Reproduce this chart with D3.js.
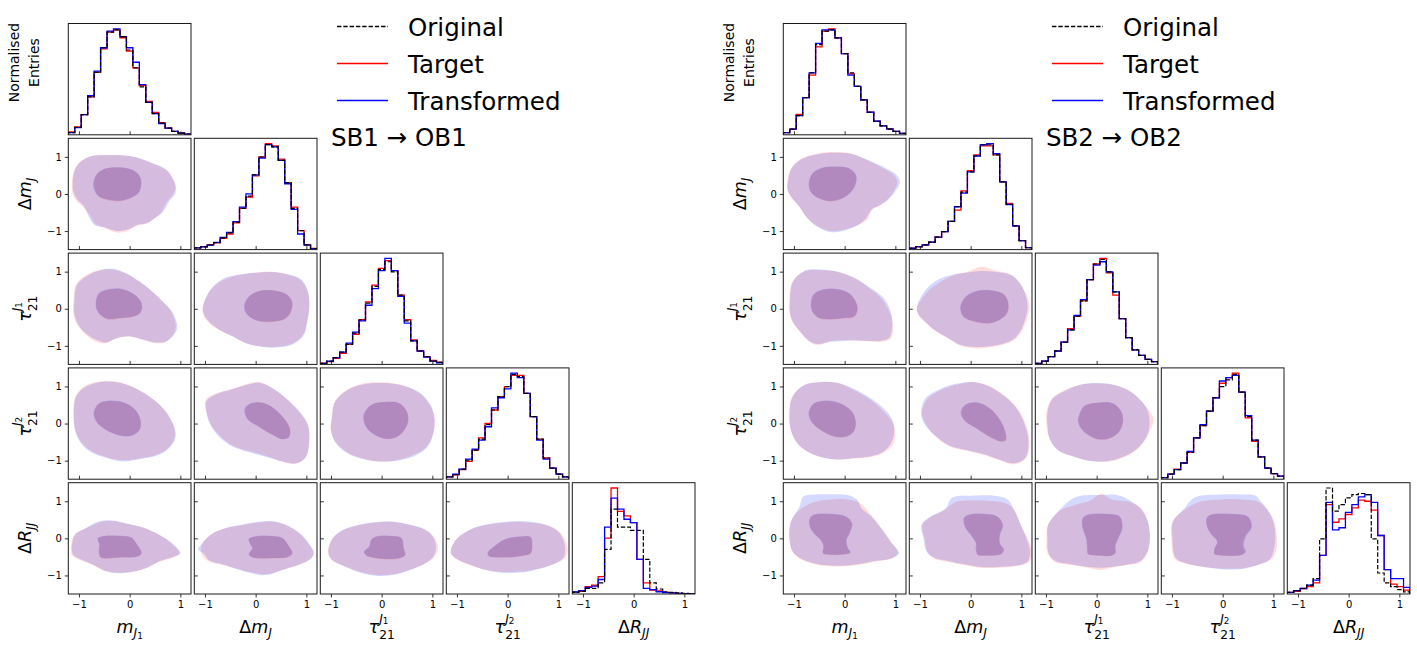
<!DOCTYPE html>
<html><head><meta charset="utf-8">
<script src="https://cdn.jsdelivr.net/npm/d3@7"></script>
<style>body{margin:0;background:#fff}svg{display:block}text{font-family:"DejaVu Sans",sans-serif;fill:#000}</style>
</head><body><svg id="c" width="1417" height="646"></svg>
<script>
// ---------------- DATA ----------------
const variables = ["mJ1","dmJ","tau1","tau2","dR"];
const tickValues = [-1, 0, 1];
const xDomain = [-1.21, 1.21];
const yDomain = [-1.5, 1.5];
const nBins = 19;
const legendLabels = ["Original", "Target", "Transformed"];
const titles = ["SB1 \u2192 OB1", "SB2 \u2192 OB2"];
const pairPanels = [[1,0],[2,0],[2,1],[3,0],[3,1],[3,2],[4,0],[4,1],[4,2],[4,3]];

// histograms (normalised entries), 19 bins each, one array per variable
const histLeftOriginal = [
 [0.02,0.066,0.18,0.34,0.56,0.78,0.92,0.94,0.88,0.76,0.60,0.43,0.29,0.19,0.105,0.06,0.03,0.015,0.006],
 [0.015,0.024,0.042,0.063,0.105,0.15,0.246,0.37,0.48,0.67,0.83,0.94,0.92,0.80,0.60,0.37,0.17,0.042,0.01],
 [0.01,0.03,0.06,0.11,0.18,0.28,0.40,0.55,0.70,0.85,0.92,0.83,0.62,0.39,0.21,0.12,0.07,0.03,0.018],
 [0.02,0.04,0.09,0.17,0.26,0.36,0.49,0.62,0.74,0.83,0.94,0.92,0.77,0.56,0.36,0.19,0.10,0.045,0.02],
 [0.015,0.024,0.05,0.05,0.10,0.40,0.76,0.60,0.60,0.57,0.57,0.31,0.10,0.045,0.02,0.015,0.01,0.005,0.002]
];
const histLeftTarget = [
 [0.027,0.07,0.18,0.34,0.56,0.77,0.92,0.94,0.87,0.75,0.60,0.44,0.30,0.20,0.11,0.06,0.03,0.016,0.006],
 [0.015,0.026,0.045,0.06,0.10,0.14,0.24,0.37,0.47,0.66,0.83,0.95,0.93,0.81,0.60,0.38,0.17,0.045,0.01],
 [0.012,0.025,0.055,0.10,0.18,0.27,0.40,0.56,0.71,0.86,0.93,0.84,0.62,0.40,0.22,0.12,0.07,0.035,0.02],
 [0.02,0.04,0.085,0.16,0.26,0.37,0.50,0.62,0.74,0.83,0.93,0.93,0.77,0.56,0.36,0.19,0.10,0.045,0.02],
 [0.018,0.024,0.066,0.08,0.155,0.50,0.95,0.74,0.70,0.64,0.31,0.10,0.036,0.027,0.015,0.01,0.005,0.003,0.002]
];
const histLeftTransformed = [
 [0.02,0.065,0.18,0.35,0.57,0.78,0.93,0.95,0.88,0.78,0.65,0.45,0.29,0.19,0.10,0.06,0.03,0.015,0.006],
 [0.015,0.024,0.04,0.065,0.11,0.155,0.25,0.38,0.50,0.67,0.82,0.94,0.92,0.80,0.59,0.36,0.14,0.04,0.008],
 [0.01,0.03,0.06,0.11,0.19,0.29,0.39,0.53,0.68,0.84,0.95,0.84,0.61,0.37,0.21,0.12,0.065,0.03,0.015],
 [0.02,0.045,0.09,0.18,0.27,0.35,0.47,0.64,0.73,0.81,0.95,0.91,0.77,0.56,0.35,0.18,0.10,0.045,0.02],
 [0.018,0.03,0.06,0.07,0.13,0.60,0.86,0.76,0.67,0.64,0.31,0.05,0.04,0.02,0.012,0.01,0.005,0.003,0.002]
];
const histRightOriginal = [
 [0.02,0.05,0.17,0.33,0.55,0.80,0.92,0.93,0.86,0.72,0.55,0.43,0.31,0.20,0.12,0.08,0.05,0.03,0.012],
 [0.012,0.027,0.042,0.066,0.11,0.16,0.25,0.38,0.51,0.69,0.83,0.93,0.93,0.84,0.60,0.40,0.21,0.08,0.018],
 [0.01,0.03,0.07,0.12,0.20,0.31,0.43,0.57,0.76,0.90,0.94,0.83,0.65,0.41,0.24,0.13,0.08,0.045,0.024],
 [0.015,0.045,0.085,0.145,0.24,0.37,0.48,0.61,0.73,0.83,0.89,0.94,0.78,0.56,0.35,0.20,0.10,0.05,0.027],
 [0.015,0.03,0.05,0.08,0.14,0.50,0.96,0.75,0.81,0.87,0.90,0.91,0.90,0.50,0.19,0.10,0.066,0.04,0.02]
];
const histRightTarget = [
 [0.02,0.05,0.18,0.33,0.53,0.78,0.92,0.94,0.86,0.72,0.54,0.43,0.31,0.20,0.12,0.08,0.055,0.03,0.012],
 [0.012,0.025,0.04,0.065,0.11,0.16,0.25,0.35,0.52,0.70,0.84,0.92,0.92,0.84,0.60,0.41,0.21,0.08,0.018],
 [0.01,0.03,0.07,0.12,0.20,0.32,0.43,0.57,0.76,0.90,0.95,0.82,0.62,0.41,0.24,0.13,0.08,0.045,0.024],
 [0.015,0.045,0.09,0.145,0.24,0.37,0.48,0.61,0.73,0.86,0.91,0.95,0.78,0.55,0.34,0.20,0.10,0.05,0.027],
 [0.015,0.024,0.05,0.066,0.10,0.35,0.81,0.65,0.68,0.72,0.78,0.85,0.84,0.76,0.53,0.22,0.09,0.066,0.036]
];
const histRightTransformed = [
 [0.02,0.05,0.17,0.33,0.55,0.81,0.93,0.93,0.86,0.72,0.53,0.43,0.31,0.20,0.12,0.08,0.05,0.03,0.012],
 [0.012,0.027,0.042,0.066,0.11,0.16,0.25,0.38,0.50,0.69,0.83,0.93,0.94,0.85,0.60,0.40,0.21,0.08,0.018],
 [0.01,0.03,0.07,0.12,0.20,0.31,0.44,0.58,0.76,0.89,0.92,0.83,0.65,0.41,0.24,0.13,0.08,0.045,0.024],
 [0.015,0.045,0.085,0.145,0.25,0.37,0.49,0.61,0.73,0.88,0.91,0.93,0.78,0.57,0.35,0.20,0.10,0.05,0.027],
 [0.015,0.03,0.05,0.08,0.125,0.35,0.83,0.58,0.60,0.74,0.81,0.88,0.90,0.83,0.53,0.22,0.14,0.14,0.06]
];

// density contour outlines [x, y] in data units, one polygon per off-diagonal panel (order of pairPanels)
const contourLeftTargetOuter = [
 [[-1.14,0.14],[-1.06,0.73],[-0.80,1.00],[-0.47,1.04],[0.06,1.00],[0.45,0.82],[0.72,0.64],[0.91,0.23],[0.86,0.01],[0.72,-0.24],[0.62,-0.50],[0.47,-0.68],[0.30,-0.82],[0.14,-0.86],[-0.04,-1.00],[-0.27,-1.04],[-0.50,-0.91],[-0.68,-0.80],[-0.78,-0.58],[-0.92,-0.35],[-1.08,-0.13]],
 [[-1.11,0.19],[-1.06,0.64],[-0.86,0.91],[-0.60,1.04],[-0.34,1.06],[-0.07,0.95],[0.19,0.73],[0.45,0.46],[0.65,0.19],[0.82,-0.08],[0.91,-0.49],[0.85,-0.71],[0.72,-0.89],[0.52,-0.93],[0.26,-0.84],[-0.01,-0.75],[-0.27,-0.80],[-0.47,-0.93],[-0.66,-0.89],[-0.86,-0.71],[-1.03,-0.44],[-1.11,-0.13]],
 [[-1.05,0.01],[-0.91,0.46],[-0.65,0.77],[-0.32,0.91],[0.01,0.98],[0.34,1.00],[0.66,0.91],[0.89,0.77],[1.03,0.46],[1.06,0.10],[1.01,-0.35],[0.93,-0.71],[0.73,-0.93],[0.47,-1.02],[0.14,-1.02],[-0.19,-0.93],[-0.45,-0.75],[-0.72,-0.58],[-0.91,-0.40],[-1.03,-0.17]],
 [[-1.11,0.22],[-1.06,0.76],[-0.86,1.03],[-0.53,1.14],[-0.20,1.11],[0.13,0.94],[0.45,0.67],[0.72,0.31],[0.88,-0.13],[0.88,-0.40],[0.75,-0.67],[0.52,-0.85],[0.19,-0.94],[-0.14,-0.99],[-0.47,-0.90],[-0.73,-0.76],[-0.93,-0.54],[-1.06,-0.22]],
 [[-0.99,0.63],[-0.78,0.81],[-0.45,0.94],[-0.13,1.08],[0.07,1.12],[0.34,0.94],[0.60,0.67],[0.86,0.31],[1.03,-0.04],[1.05,-0.49],[0.99,-0.90],[0.80,-1.08],[0.53,-1.03],[0.27,-0.90],[-0.06,-0.76],[-0.39,-0.63],[-0.65,-0.40],[-0.85,-0.09],[-0.95,0.22]],
 [[-0.99,0.13],[-0.93,0.58],[-0.70,0.90],[-0.37,1.08],[0.03,1.11],[0.42,1.03],[0.75,0.81],[0.95,0.49],[1.05,0.13],[1.01,-0.31],[0.88,-0.63],[0.62,-0.85],[0.29,-0.99],[-0.04,-1.03],[-0.37,-0.94],[-0.70,-0.76],[-0.93,-0.45],[-1.01,-0.13]],
 [[-1.16,-0.31],[-1.09,0.09],[-0.86,0.27],[-0.60,0.43],[-0.34,0.47],[-0.07,0.40],[0.26,0.29],[0.59,0.09],[0.82,-0.13],[0.98,-0.40],[0.85,-0.52],[0.59,-0.63],[0.32,-0.81],[0.06,-0.90],[-0.27,-0.92],[-0.53,-0.85],[-0.73,-0.72],[-0.99,-0.58],[-1.13,-0.47]],
 [[-1.05,-0.13],[-0.85,0.13],[-0.59,0.27],[-0.26,0.36],[0.07,0.43],[0.34,0.45],[0.60,0.36],[0.86,0.13],[1.03,-0.13],[1.14,-0.40],[1.06,-0.58],[0.86,-0.72],[0.53,-0.85],[0.20,-0.97],[-0.06,-0.92],[-0.39,-0.81],[-0.65,-0.72],[-0.91,-0.63],[-1.05,-0.47]],
 [[-1.06,-0.36],[-0.96,0.00],[-0.76,0.22],[-0.43,0.36],[-0.11,0.43],[0.22,0.45],[0.55,0.36],[0.88,0.22],[1.05,0.00],[1.11,-0.27],[1.05,-0.49],[0.88,-0.67],[0.55,-0.85],[0.22,-0.97],[-0.11,-0.99],[-0.43,-0.90],[-0.76,-0.74],[-0.99,-0.58]],
 [[-1.12,-0.40],[-1.02,-0.04],[-0.76,0.22],[-0.43,0.36],[-0.03,0.43],[0.36,0.43],[0.76,0.36],[1.02,0.18],[1.15,-0.09],[1.18,-0.40],[1.09,-0.58],[0.82,-0.74],[0.49,-0.85],[0.16,-0.90],[-0.16,-0.90],[-0.49,-0.83],[-0.76,-0.72],[-0.99,-0.58]]
];
const contourLeftTargetInner = [
 [[-0.70,0.32],[-0.63,0.55],[-0.47,0.68],[-0.20,0.71],[0.06,0.64],[0.20,0.46],[0.22,0.23],[0.16,0.01],[-0.01,-0.13],[-0.20,-0.20],[-0.43,-0.17],[-0.60,-0.08],[-0.68,0.10]],
 [[-0.66,0.19],[-0.60,0.41],[-0.40,0.52],[-0.17,0.53],[0.06,0.41],[0.20,0.23],[0.24,0.05],[0.20,-0.13],[0.06,-0.22],[-0.17,-0.26],[-0.43,-0.29],[-0.57,-0.17],[-0.65,0.01]],
 [[-0.21,0.10],[-0.13,0.32],[0.07,0.48],[0.34,0.49],[0.60,0.39],[0.72,0.19],[0.70,-0.08],[0.60,-0.26],[0.37,-0.35],[0.11,-0.35],[-0.09,-0.24],[-0.19,-0.08]],
 [[-0.70,0.31],[-0.60,0.54],[-0.34,0.61],[-0.07,0.54],[0.13,0.33],[0.22,0.04],[0.19,-0.18],[0.06,-0.31],[-0.14,-0.33],[-0.40,-0.22],[-0.60,-0.04],[-0.68,0.13]],
 [[-0.20,0.40],[-0.09,0.54],[0.14,0.56],[0.37,0.40],[0.57,0.13],[0.68,-0.13],[0.66,-0.36],[0.53,-0.42],[0.34,-0.31],[0.07,-0.09],[-0.16,0.13]],
 [[-0.34,0.27],[-0.20,0.51],[0.06,0.58],[0.36,0.54],[0.50,0.31],[0.52,0.04],[0.43,-0.22],[0.26,-0.39],[0.03,-0.40],[-0.17,-0.27],[-0.30,-0.09],[-0.35,0.09]],
 [[-0.62,0.00],[-0.47,0.06],[-0.20,0.06],[0.03,0.02],[0.13,-0.13],[0.24,-0.40],[0.16,-0.49],[-0.20,-0.52],[-0.57,-0.52],[-0.60,-0.36],[-0.59,-0.18]],
 [[-0.13,-0.02],[-0.03,0.04],[0.27,0.06],[0.53,0.00],[0.66,-0.22],[0.73,-0.40],[0.63,-0.51],[0.34,-0.54],[-0.06,-0.52],[-0.13,-0.43],[-0.06,-0.27],[-0.11,-0.13]],
 [[-0.20,-0.04],[-0.11,0.04],[0.16,0.06],[0.39,0.00],[0.43,-0.27],[0.47,-0.45],[0.36,-0.54],[0.03,-0.56],[-0.30,-0.47],[-0.34,-0.36],[-0.24,-0.22]],
 [[-0.39,-0.40],[-0.23,-0.18],[-0.03,-0.02],[0.23,0.04],[0.46,0.03],[0.49,-0.18],[0.46,-0.40],[0.23,-0.49],[-0.10,-0.52],[-0.36,-0.49]]
];
const contourLeftTransformedOuter = [
 [[-1.12,0.14],[-1.05,0.73],[-0.80,1.00],[-0.47,1.05],[0.06,1.01],[0.45,0.83],[0.74,0.64],[0.90,0.23],[0.90,0.01],[0.77,-0.22],[0.66,-0.48],[0.50,-0.65],[0.33,-0.79],[0.16,-0.83],[-0.04,-0.96],[-0.27,-1.00],[-0.50,-0.90],[-0.69,-0.84],[-0.80,-0.62],[-0.89,-0.35],[-1.04,-0.13]],
 [[-1.09,0.19],[-1.04,0.64],[-0.84,0.88],[-0.60,1.03],[-0.34,1.08],[-0.07,0.96],[0.19,0.74],[0.45,0.46],[0.66,0.19],[0.84,-0.08],[0.94,-0.49],[0.87,-0.71],[0.72,-0.88],[0.52,-0.91],[0.26,-0.83],[-0.01,-0.74],[-0.27,-0.80],[-0.47,-0.91],[-0.64,-0.85],[-0.84,-0.69],[-1.01,-0.44],[-1.09,-0.13]],
 [[-1.04,0.03],[-0.90,0.50],[-0.65,0.80],[-0.32,0.92],[0.01,0.97],[0.34,0.99],[0.66,0.92],[0.91,0.78],[1.03,0.46],[1.06,0.10],[1.02,-0.35],[0.95,-0.71],[0.75,-0.95],[0.47,-1.04],[0.14,-1.03],[-0.19,-0.93],[-0.45,-0.75],[-0.72,-0.56],[-0.90,-0.38],[-1.02,-0.15]],
 [[-1.10,0.22],[-1.05,0.74],[-0.84,1.01],[-0.53,1.13],[-0.20,1.10],[0.13,0.94],[0.45,0.67],[0.72,0.31],[0.89,-0.13],[0.90,-0.40],[0.77,-0.67],[0.52,-0.87],[0.19,-0.96],[-0.14,-1.02],[-0.47,-0.92],[-0.75,-0.78],[-0.95,-0.55],[-1.07,-0.22]],
 [[-0.97,0.60],[-0.78,0.79],[-0.45,0.93],[-0.13,1.06],[0.07,1.10],[0.34,0.95],[0.60,0.68],[0.86,0.33],[1.03,-0.04],[1.06,-0.49],[0.99,-0.90],[0.80,-1.07],[0.53,-1.02],[0.27,-0.92],[-0.06,-0.80],[-0.39,-0.66],[-0.67,-0.42],[-0.87,-0.09],[-0.96,0.22]],
 [[-0.98,0.13],[-0.92,0.58],[-0.70,0.88],[-0.37,1.05],[0.03,1.09],[0.42,1.02],[0.77,0.82],[0.97,0.49],[1.04,0.13],[1.01,-0.31],[0.90,-0.64],[0.64,-0.88],[0.29,-1.00],[-0.04,-1.02],[-0.40,-0.95],[-0.72,-0.76],[-0.94,-0.45],[-1.00,-0.13]],
 [[-1.14,-0.31],[-1.08,0.09],[-0.86,0.28],[-0.60,0.46],[-0.34,0.48],[-0.07,0.40],[0.26,0.29],[0.59,0.09],[0.84,-0.13],[1.00,-0.40],[0.85,-0.50],[0.59,-0.61],[0.32,-0.80],[0.06,-0.90],[-0.27,-0.94],[-0.53,-0.85],[-0.73,-0.70],[-0.97,-0.56],[-1.11,-0.45]],
 [[-1.03,-0.10],[-0.85,0.13],[-0.59,0.28],[-0.26,0.37],[0.07,0.45],[0.34,0.46],[0.60,0.36],[0.88,0.13],[1.05,-0.13],[1.15,-0.40],[1.06,-0.58],[0.86,-0.70],[0.53,-0.85],[0.20,-0.99],[-0.06,-0.95],[-0.39,-0.82],[-0.65,-0.70],[-0.91,-0.60],[-1.02,-0.42],[-1.13,-0.30]],
 [[-1.05,-0.36],[-0.96,0.02],[-0.76,0.23],[-0.43,0.37],[-0.11,0.44],[0.22,0.45],[0.55,0.37],[0.88,0.22],[1.03,0.00],[1.07,-0.27],[1.02,-0.49],[0.86,-0.67],[0.55,-0.86],[0.22,-0.99],[-0.11,-1.01],[-0.43,-0.92],[-0.76,-0.74],[-0.99,-0.56]],
 [[-1.12,-0.40],[-1.02,-0.04],[-0.76,0.22],[-0.43,0.37],[-0.03,0.45],[0.36,0.46],[0.76,0.36],[1.00,0.18],[1.11,-0.09],[1.13,-0.40],[1.06,-0.58],[0.82,-0.74],[0.49,-0.87],[0.16,-0.93],[-0.16,-0.92],[-0.49,-0.83],[-0.76,-0.70],[-0.99,-0.56]]
];
const contourLeftTransformedInner = [
 [[-0.72,0.30],[-0.64,0.55],[-0.47,0.69],[-0.20,0.72],[0.06,0.65],[0.21,0.46],[0.23,0.23],[0.17,0.01],[-0.01,-0.12],[-0.20,-0.18],[-0.43,-0.15],[-0.61,-0.06],[-0.70,0.10]],
 [[-0.67,0.19],[-0.61,0.42],[-0.40,0.53],[-0.17,0.54],[0.06,0.42],[0.21,0.23],[0.25,0.05],[0.20,-0.12],[0.06,-0.21],[-0.17,-0.25],[-0.43,-0.27],[-0.58,-0.16],[-0.66,0.01]],
 [[-0.23,0.10],[-0.14,0.33],[0.07,0.48],[0.34,0.50],[0.60,0.40],[0.72,0.19],[0.69,-0.08],[0.58,-0.26],[0.37,-0.34],[0.11,-0.34],[-0.10,-0.24],[-0.21,-0.08]],
 [[-0.71,0.31],[-0.60,0.55],[-0.34,0.62],[-0.07,0.55],[0.14,0.33],[0.22,0.04],[0.19,-0.19],[0.06,-0.32],[-0.14,-0.34],[-0.40,-0.22],[-0.60,-0.04],[-0.69,0.13]],
 [[-0.22,0.40],[-0.10,0.55],[0.14,0.56],[0.37,0.40],[0.56,0.13],[0.67,-0.13],[0.66,-0.36],[0.53,-0.42],[0.34,-0.31],[0.07,-0.09],[-0.17,0.13]],
 [[-0.35,0.27],[-0.21,0.50],[0.06,0.58],[0.35,0.54],[0.50,0.31],[0.52,0.04],[0.42,-0.22],[0.26,-0.38],[0.03,-0.40],[-0.18,-0.27],[-0.31,-0.09],[-0.36,0.09]],
 [[-0.63,0.00],[-0.47,0.07],[-0.20,0.07],[0.03,0.03],[0.13,-0.13],[0.23,-0.40],[0.15,-0.49],[-0.20,-0.51],[-0.57,-0.51],[-0.61,-0.36],[-0.60,-0.18]],
 [[-0.14,-0.02],[-0.03,0.05],[0.27,0.07],[0.53,0.01],[0.66,-0.22],[0.72,-0.40],[0.63,-0.50],[0.34,-0.53],[-0.06,-0.51],[-0.14,-0.43],[-0.07,-0.27],[-0.12,-0.13]],
 [[-0.21,-0.04],[-0.11,0.05],[0.16,0.07],[0.39,0.01],[0.44,-0.27],[0.46,-0.45],[0.36,-0.53],[0.03,-0.55],[-0.30,-0.46],[-0.35,-0.36],[-0.25,-0.22]],
 [[-0.40,-0.40],[-0.23,-0.17],[-0.03,-0.01],[0.23,0.05],[0.45,0.04],[0.48,-0.18],[0.45,-0.40],[0.23,-0.48],[-0.10,-0.51],[-0.37,-0.48]]
];
const contourRightTargetOuter = [
 [[-1.13,0.32],[-1.06,0.68],[-0.86,0.95],[-0.53,1.09],[-0.20,1.13],[0.13,1.09],[0.45,0.91],[0.78,0.68],[0.98,0.50],[1.04,0.32],[0.96,0.05],[0.83,-0.17],[0.70,-0.31],[0.55,-0.42],[0.45,-0.68],[0.26,-0.84],[-0.01,-0.96],[-0.27,-1.00],[-0.53,-0.87],[-0.73,-0.66],[-0.89,-0.35],[-1.06,-0.08],[-1.13,0.10]],
 [[-1.09,0.19],[-1.03,0.73],[-0.80,1.00],[-0.47,1.04],[-0.14,1.00],[0.19,0.82],[0.49,0.55],[0.72,0.28],[0.88,-0.08],[0.95,-0.44],[0.91,-0.80],[0.72,-0.89],[0.39,-0.87],[0.06,-0.84],[-0.27,-0.87],[-0.53,-0.98],[-0.70,-0.89],[-0.86,-0.66],[-1.03,-0.35],[-1.09,-0.08]],
 [[-1.06,0.01],[-0.85,0.46],[-0.59,0.73],[-0.32,0.91],[-0.06,1.00],[0.20,1.13],[0.47,1.04],[0.80,0.91],[0.99,0.64],[1.13,0.28],[1.16,0.01],[1.09,-0.35],[0.96,-0.71],[0.80,-0.89],[0.47,-1.02],[0.14,-1.07],[-0.19,-1.00],[-0.45,-0.80],[-0.72,-0.58],[-0.91,-0.35],[-1.03,-0.17]],
 [[-1.09,0.22],[-1.03,0.72],[-0.80,1.03],[-0.47,1.11],[-0.14,1.09],[0.19,0.90],[0.52,0.63],[0.78,0.31],[0.97,-0.04],[0.98,-0.49],[0.80,-0.76],[0.52,-0.90],[0.19,-0.94],[-0.14,-0.97],[-0.47,-0.90],[-0.73,-0.76],[-0.93,-0.54],[-1.06,-0.18]],
 [[-0.95,0.40],[-0.85,0.67],[-0.59,0.90],[-0.26,1.05],[0.04,1.12],[0.34,1.03],[0.66,0.76],[0.93,0.40],[1.09,-0.04],[1.16,-0.49],[1.09,-0.94],[0.86,-1.10],[0.60,-1.01],[0.27,-0.85],[-0.06,-0.74],[-0.39,-0.63],[-0.65,-0.40],[-0.85,-0.09],[-0.95,0.18]],
 [[-0.99,0.31],[-0.89,0.67],[-0.63,0.90],[-0.30,1.05],[0.03,1.08],[0.36,1.03],[0.68,0.85],[0.95,0.49],[1.12,0.13],[1.01,-0.31],[0.82,-0.67],[0.55,-0.90],[0.22,-1.03],[-0.11,-1.01],[-0.43,-0.90],[-0.76,-0.72],[-0.93,-0.40],[-0.99,-0.04]],
 [[-1.09,0.00],[-1.06,0.45],[-0.89,0.76],[-0.60,0.98],[-0.27,1.05],[0.06,1.05],[0.32,0.94],[0.52,0.63],[0.72,0.27],[0.91,-0.09],[1.05,-0.40],[0.91,-0.54],[0.59,-0.63],[0.26,-0.72],[-0.07,-0.76],[-0.40,-0.74],[-0.66,-0.67],[-0.89,-0.54],[-1.03,-0.36]],
 [[-0.95,0.36],[-0.78,0.58],[-0.50,0.78],[-0.30,0.98],[0.01,1.02],[0.47,1.00],[0.73,0.92],[0.86,0.76],[0.99,0.36],[1.12,0.00],[1.22,-0.36],[1.16,-0.63],[0.86,-0.76],[0.53,-0.79],[0.20,-0.79],[-0.13,-0.72],[-0.45,-0.63],[-0.72,-0.54],[-0.85,-0.36],[-0.91,0.00]],
 [[-0.96,0.36],[-0.76,0.72],[-0.43,0.90],[-0.11,1.03],[0.09,1.21],[0.29,1.05],[0.62,0.99],[0.88,0.81],[1.01,0.45],[1.05,0.00],[1.01,-0.36],[0.88,-0.63],[0.62,-0.72],[0.29,-0.79],[0.09,-0.85],[-0.17,-0.79],[-0.50,-0.72],[-0.83,-0.63],[-0.97,-0.40],[-0.99,0.00]],
 [[-0.99,0.45],[-0.76,0.76],[-0.43,0.99],[-0.03,1.05],[0.36,1.05],[0.69,0.99],[0.89,0.76],[1.02,0.45],[1.07,0.00],[1.05,-0.36],[0.95,-0.58],[0.69,-0.72],[0.36,-0.81],[-0.03,-0.81],[-0.43,-0.76],[-0.76,-0.67],[-0.95,-0.54],[-1.01,0.00]]
];
const contourRightTargetInner = [
 [[-0.70,0.28],[-0.63,0.55],[-0.43,0.70],[-0.17,0.73],[0.09,0.68],[0.22,0.50],[0.20,0.23],[0.09,0.01],[-0.07,-0.14],[-0.30,-0.20],[-0.53,-0.11],[-0.66,0.05]],
 [[-0.66,0.14],[-0.60,0.39],[-0.40,0.52],[-0.14,0.52],[0.09,0.41],[0.22,0.19],[0.26,-0.04],[0.19,-0.22],[-0.01,-0.26],[-0.27,-0.29],[-0.50,-0.26],[-0.63,-0.08]],
 [[-0.19,0.10],[-0.09,0.32],[0.14,0.48],[0.40,0.49],[0.66,0.39],[0.75,0.14],[0.72,-0.13],[0.57,-0.31],[0.34,-0.40],[0.07,-0.35],[-0.13,-0.22],[-0.19,-0.06]],
 [[-0.70,0.31],[-0.60,0.54],[-0.34,0.61],[-0.04,0.51],[0.16,0.29],[0.22,0.00],[0.18,-0.22],[0.03,-0.36],[-0.20,-0.36],[-0.43,-0.22],[-0.60,-0.04],[-0.68,0.13]],
 [[-0.18,0.31],[-0.09,0.51],[0.14,0.56],[0.37,0.42],[0.57,0.13],[0.68,-0.18],[0.70,-0.45],[0.60,-0.49],[0.37,-0.36],[0.11,-0.13],[-0.12,0.09]],
 [[-0.34,0.22],[-0.24,0.47],[0.03,0.56],[0.32,0.54],[0.49,0.31],[0.52,0.00],[0.42,-0.27],[0.22,-0.42],[-0.01,-0.42],[-0.20,-0.27],[-0.32,-0.09],[-0.36,0.09]],
 [[-0.68,0.54],[-0.60,0.63],[-0.27,0.65],[0.03,0.58],[0.14,0.40],[0.09,0.13],[0.03,-0.04],[0.06,-0.27],[0.11,-0.38],[0.03,-0.43],[-0.27,-0.45],[-0.43,-0.40],[-0.41,-0.22],[-0.47,-0.04],[-0.60,0.13],[-0.68,0.31]],
 [[-0.13,0.54],[-0.03,0.63],[0.27,0.65],[0.53,0.58],[0.63,0.36],[0.57,0.09],[0.57,-0.13],[0.65,-0.31],[0.60,-0.43],[0.34,-0.47],[0.14,-0.45],[0.11,-0.31],[0.11,-0.13],[0.01,0.09],[-0.09,0.27]],
 [[-0.27,0.54],[-0.17,0.63],[0.19,0.65],[0.45,0.58],[0.50,0.27],[0.42,0.00],[0.36,-0.22],[0.37,-0.38],[0.29,-0.47],[0.03,-0.47],[-0.17,-0.43],[-0.18,-0.27],[-0.20,0.00],[-0.27,0.27]],
 [[-0.31,0.54],[-0.23,0.63],[0.16,0.65],[0.49,0.58],[0.56,0.31],[0.43,0.04],[0.39,-0.22],[0.44,-0.36],[0.36,-0.45],[0.03,-0.47],[-0.16,-0.43],[-0.16,-0.27],[-0.10,-0.09],[-0.23,0.13],[-0.30,0.31]]
];
const contourRightTransformedOuter = [
 [[-1.12,0.32],[-1.05,0.68],[-0.86,0.93],[-0.53,1.07],[-0.20,1.11],[0.13,1.08],[0.45,0.92],[0.80,0.70],[1.02,0.52],[1.09,0.32],[0.99,0.05],[0.85,-0.17],[0.68,-0.31],[0.53,-0.42],[0.42,-0.66],[0.24,-0.86],[-0.01,-0.99],[-0.27,-1.03],[-0.53,-0.89],[-0.73,-0.66],[-0.89,-0.35],[-1.05,-0.08],[-1.12,0.10]],
 [[-1.08,0.19],[-1.02,0.73],[-0.80,1.02],[-0.47,1.06],[-0.14,1.00],[0.19,0.84],[0.51,0.56],[0.76,0.30],[0.91,-0.08],[0.94,-0.44],[0.88,-0.78],[0.72,-0.86],[0.39,-0.86],[0.06,-0.86],[-0.27,-0.89],[-0.53,-0.95],[-0.70,-0.86],[-0.86,-0.64],[-1.02,-0.35],[-1.08,-0.08]],
 [[-1.06,0.05],[-0.88,0.52],[-0.62,0.80],[-0.32,0.93],[-0.06,0.98],[0.20,1.02],[0.47,1.00],[0.80,0.91],[0.99,0.66],[1.10,0.28],[1.12,0.01],[1.06,-0.35],[0.94,-0.69],[0.78,-0.87],[0.47,-0.99],[0.14,-1.03],[-0.19,-0.98],[-0.45,-0.78],[-0.72,-0.56],[-0.91,-0.33],[-1.03,-0.15]],
 [[-1.09,0.22],[-1.03,0.72],[-0.80,1.04],[-0.47,1.12],[-0.14,1.10],[0.21,0.92],[0.55,0.65],[0.84,0.31],[0.97,-0.04],[0.94,-0.45],[0.78,-0.74],[0.52,-0.88],[0.19,-0.93],[-0.14,-0.97],[-0.47,-0.90],[-0.73,-0.76],[-0.93,-0.54],[-1.06,-0.18]],
 [[-0.97,0.40],[-0.88,0.70],[-0.62,0.92],[-0.29,1.07],[0.04,1.12],[0.34,1.01],[0.66,0.74],[0.91,0.40],[1.07,-0.04],[1.14,-0.49],[1.08,-0.92],[0.86,-1.07],[0.60,-0.99],[0.27,-0.83],[-0.06,-0.72],[-0.39,-0.61],[-0.65,-0.38],[-0.88,-0.07],[-0.97,0.18]],
 [[-0.97,0.31],[-0.87,0.67],[-0.63,0.88],[-0.30,1.05],[0.03,1.09],[0.36,1.04],[0.68,0.85],[0.95,0.49],[1.04,0.13],[1.00,-0.31],[0.82,-0.65],[0.55,-0.88],[0.22,-1.01],[-0.11,-1.01],[-0.43,-0.90],[-0.76,-0.72],[-0.93,-0.40],[-0.97,-0.04]],
 [[-1.09,0.00],[-1.06,0.45],[-0.89,0.85],[-0.82,1.12],[-0.60,1.18],[-0.27,1.19],[0.06,1.17],[0.24,1.05],[0.34,0.80],[0.52,0.60],[0.72,0.27],[0.91,-0.09],[1.07,-0.40],[0.93,-0.54],[0.59,-0.61],[0.26,-0.70],[-0.07,-0.74],[-0.40,-0.72],[-0.66,-0.65],[-0.89,-0.52],[-1.03,-0.34]],
 [[-0.97,0.36],[-0.80,0.58],[-0.50,0.80],[-0.36,1.10],[0.01,1.15],[0.47,1.15],[0.73,1.05],[0.86,0.76],[0.99,0.36],[1.10,0.00],[1.17,-0.36],[1.12,-0.63],[0.86,-0.74],[0.53,-0.77],[0.20,-0.77],[-0.13,-0.70],[-0.45,-0.61],[-0.72,-0.52],[-0.87,-0.36],[-0.93,0.00]],
 [[-0.96,0.36],[-0.76,0.72],[-0.50,1.05],[-0.30,1.15],[0.09,1.17],[0.40,1.17],[0.62,1.05],[0.86,0.81],[1.01,0.45],[1.05,0.00],[1.00,-0.36],[0.86,-0.61],[0.62,-0.70],[0.29,-0.77],[0.09,-0.79],[-0.17,-0.77],[-0.50,-0.70],[-0.83,-0.60],[-0.95,-0.38],[-0.97,0.00]],
 [[-0.98,0.45],[-0.76,0.80],[-0.55,1.10],[-0.03,1.18],[0.36,1.18],[0.65,1.15],[0.75,1.00],[0.89,0.76],[1.00,0.45],[1.04,0.00],[1.00,-0.36],[0.92,-0.58],[0.69,-0.72],[0.36,-0.83],[-0.03,-0.83],[-0.43,-0.76],[-0.76,-0.65],[-0.93,-0.52],[-0.99,0.00]]
];
const contourRightTransformedInner = [
 [[-0.71,0.28],[-0.64,0.55],[-0.43,0.71],[-0.17,0.74],[0.09,0.69],[0.23,0.50],[0.21,0.23],[0.10,0.01],[-0.07,-0.13],[-0.30,-0.19],[-0.53,-0.10],[-0.67,0.05]],
 [[-0.67,0.14],[-0.61,0.40],[-0.40,0.53],[-0.14,0.53],[0.09,0.42],[0.22,0.19],[0.25,-0.04],[0.18,-0.21],[-0.01,-0.25],[-0.27,-0.28],[-0.50,-0.25],[-0.64,-0.08]],
 [[-0.20,0.10],[-0.10,0.33],[0.14,0.49],[0.40,0.50],[0.65,0.39],[0.74,0.14],[0.71,-0.13],[0.56,-0.30],[0.34,-0.39],[0.07,-0.34],[-0.14,-0.22],[-0.20,-0.06]],
 [[-0.71,0.31],[-0.61,0.54],[-0.34,0.62],[-0.04,0.52],[0.16,0.29],[0.22,0.00],[0.17,-0.22],[0.03,-0.35],[-0.20,-0.35],[-0.43,-0.21],[-0.60,-0.04],[-0.69,0.13]],
 [[-0.20,0.31],[-0.10,0.52],[0.14,0.57],[0.37,0.42],[0.56,0.13],[0.67,-0.18],[0.69,-0.44],[0.60,-0.48],[0.37,-0.35],[0.11,-0.13],[-0.13,0.09]],
 [[-0.35,0.22],[-0.25,0.47],[0.03,0.57],[0.32,0.55],[0.49,0.31],[0.51,0.00],[0.41,-0.27],[0.22,-0.41],[-0.01,-0.41],[-0.21,-0.27],[-0.33,-0.09],[-0.37,0.09]],
 [[-0.69,0.54],[-0.60,0.64],[-0.27,0.66],[0.03,0.59],[0.15,0.40],[0.10,0.13],[0.04,-0.04],[0.07,-0.27],[0.12,-0.38],[0.03,-0.42],[-0.27,-0.44],[-0.43,-0.39],[-0.42,-0.22],[-0.48,-0.04],[-0.61,0.13],[-0.69,0.31]],
 [[-0.14,0.54],[-0.03,0.64],[0.27,0.66],[0.53,0.59],[0.64,0.36],[0.58,0.09],[0.58,-0.13],[0.66,-0.31],[0.60,-0.42],[0.34,-0.46],[0.14,-0.44],[0.10,-0.31],[0.10,-0.13],[0.00,0.09],[-0.10,0.27]],
 [[-0.28,0.54],[-0.17,0.64],[0.19,0.66],[0.46,0.59],[0.51,0.27],[0.43,0.00],[0.37,-0.22],[0.38,-0.38],[0.29,-0.46],[0.03,-0.46],[-0.17,-0.42],[-0.19,-0.27],[-0.21,0.00],[-0.28,0.27]],
 [[-0.32,0.54],[-0.23,0.64],[0.16,0.66],[0.50,0.59],[0.58,0.31],[0.46,0.04],[0.42,-0.22],[0.46,-0.36],[0.37,-0.45],[0.03,-0.46],[-0.16,-0.42],[-0.16,-0.27],[-0.11,-0.09],[-0.24,0.13],[-0.31,0.31]]
];

// ---------------- LAYOUT / STYLE ----------------
const W = 122.7, H = 111.3, colX0 = 68.3, colStep = 126, rowY0 = 23.5, rowStep = 114.8;
const figOffset = [0, 715];
const seriesColor = {original: "#000000", target: "#ff0000", transformed: "#0000ff"};
const fillTarget = "rgb(255,221,221)", fillTransformed = "rgb(213,216,255)";
const labelParts = {
  mJ1: [{t:"m",it:1},{t:"J",it:1,s:0.7,b:0.22},{t:"1",s:0.5,b:0.36}],
  dmJ: [{t:"\u0394"},{t:"m",it:1},{t:"J",it:1,s:0.7,b:0.22}],
  tau1: [{t:"\u03c4",it:1},{t:"21",s:0.7,b:0.32,mark:1},{t:"J",it:1,s:0.7,b:-0.56,stack:1},{t:"1",s:0.5,b:-0.49}],
  tau2: [{t:"\u03c4",it:1},{t:"21",s:0.7,b:0.32,mark:1},{t:"J",it:1,s:0.7,b:-0.56,stack:1},{t:"2",s:0.5,b:-0.49}],
  dR: [{t:"\u0394"},{t:"R",it:1},{t:"JJ",it:1,s:0.7,b:0.22}]
};

const svg = d3.select("#c");
const fmt = d => d < 0 ? "\u2212" + Math.abs(d) : String(d);
let clipId = 0;

// one <text> with positioned tspans (sub/superscripts stacked)
function mathLabel(parent, parts, F) {
  const widths = parts.map(p => {
    const t = parent.append("text").attr("font-size", (p.s || 1) * F)
      .attr("font-style", p.it ? "oblique" : "normal").text(p.t);
    const w = t.node().getComputedTextLength();
    t.remove();
    return w;
  });
  let x = 0, mark = 0, maxX = 0;
  const pos = [];
  parts.forEach((p, i) => {
    if (p.stack) x = mark;
    if (p.mark) mark = x;
    pos.push(x);
    x += widths[i];
    maxX = Math.max(maxX, x);
  });
  const text = parent.append("text");
  parts.forEach((p, i) => {
    text.append("tspan").attr("x", pos[i] - maxX / 2).attr("y", (p.b || 0) * F)
      .attr("font-size", (p.s || 1) * F)
      .attr("font-style", p.it ? "oblique" : "normal").text(p.t);
  });
  return text;
}

function styleAxis(ax) {
  ax.select(".domain").remove();
  ax.attr("font-family", "DejaVu Sans").attr("font-size", 10);
  ax.selectAll(".tick line").attr("stroke", "#000").attr("stroke-width", 0.8);
}

function drawFigure(fi, hist, cont) {
  const ox = figOffset[fi];
  const fig = svg.append("g");
  for (let r = 0; r < 5; r++) {
    for (let c = 0; c <= r; c++) {
      const x0 = ox + colX0 + c * colStep, y0 = rowY0 + r * rowStep;
      const xs = d3.scaleLinear().domain(xDomain).range([x0, x0 + W]);
      const g = fig.append("g");
      const id = "clip" + (clipId++);
      g.append("clipPath").attr("id", id).append("rect")
        .attr("x", x0).attr("y", y0).attr("width", W).attr("height", H);
      const body = g.append("g").attr("clip-path", `url(#${id})`).style("isolation", "isolate");
      if (r === c) {
        const o = hist.original[r], t = hist.target[r], s = hist.transformed[r];
        const ys = d3.scaleLinear().domain([0, d3.max([...o, ...t, ...s]) * 1.05]).range([y0 + H, y0]);
        const edges = d3.range(nBins + 1).map(i => xDomain[0] + i * (xDomain[1] - xDomain[0]) / nBins);
        const stepPts = v => {
          const pts = [[edges[0], 0]];
          v.forEach((val, i) => { pts.push([edges[i], val]); pts.push([edges[i + 1], val]); });
          pts.push([edges[nBins], 0]);
          return pts;
        };
        const line = d3.line().x(d => xs(d[0])).y(d => ys(d[1]));
        body.append("path").attr("d", line(stepPts(t))).attr("fill", "none")
          .attr("stroke", seriesColor.target).attr("stroke-width", 1.3);
        body.append("path").attr("d", line(stepPts(s))).attr("fill", "none")
          .attr("stroke", seriesColor.transformed).attr("stroke-width", 1.3);
        body.append("path").attr("d", line(stepPts(o))).attr("fill", "none")
          .attr("stroke", seriesColor.original).attr("stroke-width", 1.2)
          .attr("stroke-dasharray", "4.4,1.9");
      } else {
        const ys = d3.scaleLinear().domain(yDomain).range([y0 + H, y0]);
        const k = pairPanels.findIndex(p => p[0] === r && p[1] === c);
        const area = d3.line().x(d => xs(d[0])).y(d => ys(d[1])).curve(d3.curveCatmullRomClosed.alpha(0.5));
        const layers = [
          [cont.targetOuter[k], fillTarget],
          [cont.targetInner[k], fillTarget],
          [cont.transformedOuter[k], fillTransformed],
          [cont.transformedInner[k], fillTransformed]
        ];
        body.append("rect").attr("x", x0).attr("y", y0).attr("width", W).attr("height", H).attr("fill", "#fff");
        layers.forEach(([pts, col]) => {
          body.append("path").attr("d", area(pts)).attr("fill", col).attr("stroke", "none")
            .style("mix-blend-mode", "multiply");
        });
        const ay = g.append("g").attr("transform", `translate(${x0},0)`)
          .call(d3.axisLeft(ys).tickValues(tickValues).tickSizeInner(c === 0 ? 3.5 : -3.5)
            .tickSizeOuter(0).tickPadding(3).tickFormat(c === 0 ? fmt : () => ""));
        styleAxis(ay);
      }
      const ax = g.append("g").attr("transform", `translate(0,${y0 + H})`)
        .call(d3.axisBottom(xs).tickValues(tickValues).tickSizeInner(r === 4 ? 3.5 : -3.5)
          .tickSizeOuter(0).tickPadding(3.5).tickFormat(r === 4 ? fmt : () => ""));
      styleAxis(ax);
      g.append("rect").attr("x", x0).attr("y", y0).attr("width", W).attr("height", H)
        .attr("fill", "none").attr("stroke", "#1a1a1a").attr("stroke-width", 1);
    }
  }
  // x labels
  variables.forEach((v, c) => {
    const lg = fig.append("g").attr("transform", `translate(${ox + colX0 + c * colStep + W / 2},633)`);
    mathLabel(lg, labelParts[v], 17.5);
  });
  // y labels
  variables.forEach((v, r) => {
    const yc = rowY0 + r * rowStep + H / 2;
    if (r === 0) {
      const lg = fig.append("g").attr("transform", `translate(${ox},62.5) rotate(-90)`);
      const t = lg.append("text").attr("text-anchor", "middle").attr("font-size", 14);
      t.append("tspan").attr("x", 0).attr("y", 18.5).text("Normalised");
      t.append("tspan").attr("x", 0).attr("y", 38.5).text("Entries");
    } else {
      const lg = fig.append("g").attr("transform", `translate(${ox + 31},${yc}) rotate(-90)`);
      mathLabel(lg, labelParts[v], 17.5);
    }
  });
  // legend
  const legY = [26.5, 63.5, 100.5];
  const legColor = [seriesColor.original, seriesColor.target, seriesColor.transformed];
  legendLabels.forEach((lab, i) => {
    const ln = fig.append("line").attr("x1", ox + 337).attr("x2", ox + 388).attr("y1", legY[i]).attr("y2", legY[i])
      .attr("stroke", legColor[i]).attr("stroke-width", 1.4);
    if (i === 0) ln.attr("stroke-dasharray", "4.4,1.9");
    fig.append("text").attr("x", ox + 408).attr("y", legY[i] + 9.5).attr("font-size", 24.5).text(lab);
  });
  fig.append("text").attr("x", ox + 331).attr("y", 146).attr("font-size", 24.5).text(titles[fi]);
}

drawFigure(0,
  {original: histLeftOriginal, target: histLeftTarget, transformed: histLeftTransformed},
  {targetOuter: contourLeftTargetOuter, targetInner: contourLeftTargetInner,
   transformedOuter: contourLeftTransformedOuter, transformedInner: contourLeftTransformedInner});
drawFigure(1,
  {original: histRightOriginal, target: histRightTarget, transformed: histRightTransformed},
  {targetOuter: contourRightTargetOuter, targetInner: contourRightTargetInner,
   transformedOuter: contourRightTransformedOuter, transformedInner: contourRightTransformedInner});
</script>
</body></html>
